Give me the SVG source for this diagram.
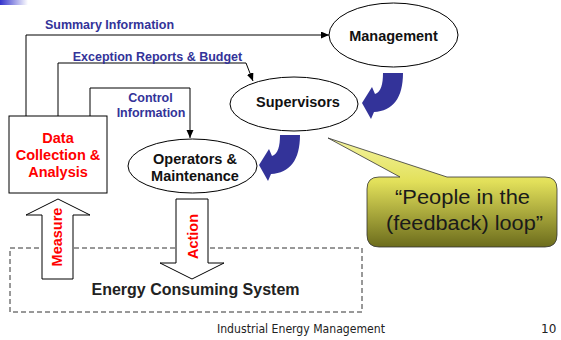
<svg xmlns="http://www.w3.org/2000/svg" width="561" height="340" viewBox="0 0 561 340">
  <style>
    .node { fill: #ffffff; stroke: #000000; stroke-width: 1; }
    .nodeText { font-family: "Liberation Sans", Arial, sans-serif; font-weight: bold; font-size: 14.5px; fill: #111111; text-anchor: middle; }
    .redText { font-family: "Liberation Sans", Arial, sans-serif; font-weight: bold; font-size: 14.5px; fill: #ff0000; text-anchor: middle; }
    .label { font-family: "Liberation Sans", Arial, sans-serif; font-weight: bold; font-size: 12.5px; fill: #333399; text-anchor: middle; }
    .link { fill: none; stroke: #000000; stroke-width: 1; }
    .flow { fill: #333399; }
    .footer { font-family: "DejaVu Sans", Tahoma, sans-serif; font-size: 12px; fill: #222222; }
  </style>
  <defs>
    <marker id="arrow" markerUnits="userSpaceOnUse" markerWidth="9" markerHeight="8" refX="8" refY="3.5" orient="auto">
      <path d="M0,0 L8,3.5 L0,7 Z" fill="#000000"/>
    </marker>
    <linearGradient id="corner" x1="0" y1="0" x2="1" y2="0">
      <stop offset="0" stop-color="#3333cc"/>
      <stop offset="1" stop-color="#ffffff"/>
    </linearGradient>
    <linearGradient id="bubbleFill" gradientUnits="userSpaceOnUse" x1="0" y1="138" x2="0" y2="247">
      <stop offset="0" stop-color="#f4f4a0"/>
      <stop offset="0.4" stop-color="#e2e05a"/>
      <stop offset="1" stop-color="#6c6c1c"/>
    </linearGradient>
    <path id="curvedArrow" d="M383,73 H403 C403,98 393,111 374,112 L371,119 L362,103 L372,87 L375,94 C381,92 383,84 383,73 Z"/>
  </defs>

  <!-- corner accent -->
  <rect x="0" y="0" width="28" height="5" fill="url(#corner)"/>

  <!-- system boundary -->
  <rect id="energy-system" x="10" y="248" width="352" height="64" fill="none" stroke="#333333" stroke-width="1" stroke-dasharray="5,3"/>
  <text class="nodeText" x="195.5" y="295" style="font-size:16px; fill:#222222">Energy Consuming System</text>

  <!-- connectors -->
  <g id="connectors">
    <path class="link" d="M26,116 V35 H329" marker-end="url(#arrow)"/>
    <path class="link" d="M58,116 V63 H246 L253,81" marker-end="url(#arrow)"/>
    <path class="link" d="M90,116 V88 H190 V138" marker-end="url(#arrow)"/>
    <text class="label" x="109.5" y="29">Summary Information</text>
    <text class="label" x="157.5" y="61">Exception Reports &amp; Budget</text>
    <text class="label" x="150.5" y="102">Control</text>
    <text class="label" x="151" y="117">Information</text>
    <use href="#curvedArrow" class="flow"/>
    <use href="#curvedArrow" class="flow" transform="translate(-103,62)"/>
  </g>

  <g id="management">
    <ellipse class="node" cx="393.5" cy="35" rx="64.5" ry="32"/>
    <text class="nodeText" x="393.5" y="41">Management</text>
  </g>

  <g id="supervisors">
    <ellipse class="node" cx="294" cy="104" rx="64" ry="27"/>
    <text class="nodeText" x="298" y="107">Supervisors</text>
  </g>

  <g id="operators">
    <ellipse class="node" cx="192.5" cy="166" rx="64.5" ry="27"/>
    <text class="nodeText" x="195" y="164">Operators &amp;</text>
    <text class="nodeText" x="195" y="181">Maintenance</text>
  </g>

  <g id="data-collection">
    <rect class="node" x="9" y="116" width="98" height="77"/>
    <text class="redText" x="58" y="143">Data</text>
    <text class="redText" x="58" y="160">Collection &amp;</text>
    <text class="redText" x="58" y="177">Analysis</text>
  </g>

  <g id="measure">
    <polygon class="node" points="58,199 90,215 73,215 73,279 42,279 42,215 26,215"/>
    <text class="redText" transform="translate(62,237) rotate(-90)">Measure</text>
  </g>

  <g id="action">
    <polygon class="node" points="176,199 208,199 208,263 224,263 192,279 160,263 176,263"/>
    <text class="redText" transform="translate(198,236.5) rotate(-90)">Action</text>
  </g>

  <g id="callout">
    <path d="M379,177 L400,177 L328,138 L447,177 L545,177 Q557,177 557,189 L557,235 Q557,247 545,247 L379,247 Q367,247 367,235 L367,189 Q367,177 379,177 Z" fill="url(#bubbleFill)" stroke="#333333" stroke-width="0.8"/>
    <text x="462.5" y="204" font-family="'Liberation Sans', Tahoma, sans-serif" font-size="20" fill="#1a1a1a" text-anchor="middle" textLength="135" lengthAdjust="spacingAndGlyphs">“People in the</text>
    <text x="464.5" y="230" font-family="'Liberation Sans', Tahoma, sans-serif" font-size="20" fill="#1a1a1a" text-anchor="middle" textLength="157" lengthAdjust="spacingAndGlyphs">(feedback) loop”</text>
  </g>

  <!-- footer -->
  <text class="footer" x="217" y="333" textLength="168" lengthAdjust="spacingAndGlyphs">Industrial Energy Management</text>
  <text class="footer" x="541" y="333">10</text>
</svg>
